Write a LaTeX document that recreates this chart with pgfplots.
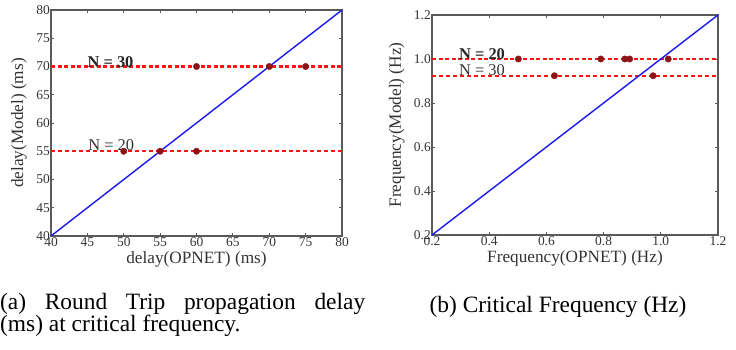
\documentclass[border=0pt]{standalone}
\usepackage{fontspec}
\setmainfont{Liberation Serif}
\usepackage{pgfplots}
\pgfplotsset{compat=1.18}
\definecolor{mblue}{RGB}{25,25,240}
\definecolor{mred}{RGB}{250,20,20}
\definecolor{mdot}{RGB}{140,20,20}
\definecolor{mframe}{RGB}{90,90,90}
\pgfplotsset{
  mystyle/.style={
    scale only axis,
    axis line style={mframe, line width=1.1bp},
    tick align=inside,
    major tick length=3bp,
    every tick/.style={mframe, line width=0.8bp},
    tick label style={font=\fontsize{13.5}{14}\selectfont, text=black!80},
    /pgf/number format/assume math mode=true,
    xticklabel style={inner sep=1bp},
    yticklabel style={inner sep=1bp},
    label style={font=\fontsize{17.3}{18}\selectfont, text=black!80},
    clip=false,
  }
}
\begin{document}
\begin{tikzpicture}
\useasboundingbox (0bp,0bp) rectangle (736bp,350bp);
\begin{axis}[mystyle,
  at={(51bp,114bp)}, anchor=south west, width=291bp, height=226bp,
  xmin=40, xmax=80, ymin=40, ymax=80,
  xtick={40,45,...,80}, ytick={40,45,...,80},
  xlabel={delay(OPNET) (ms)}, ylabel={delay(Model) (ms)},
  xlabel style={yshift=-1bp}, ylabel style={yshift=5bp},
]
\addplot[mred, line width=1.5bp, dash pattern=on 4bp off 3bp] coordinates {(40,55) (80,55)};
\addplot[mred, line width=2.5bp, dash pattern=on 4bp off 2.5bp] coordinates {(40,70) (80,70)};
\addplot[mblue, line width=1.4bp] coordinates {(40,40) (80,80)};
\addplot[only marks, mark=*, mark size=3.2bp, mdot] coordinates {(50,55) (55,55) (60,55)};
\addplot[only marks, mark=*, mark size=3.2bp, mdot] coordinates {(60,70) (70,70) (75,70)};
\node[anchor=base west, inner sep=0, font=\fontsize{16.5}{18}\selectfont, text=black!80] at (axis cs:45.1,55.2) {N = 20};
\node[anchor=base west, inner sep=0, font=\fontsize{16.5}{18}\selectfont\bfseries, text=black!85] at (axis cs:45,69.9) {N = 30};
\end{axis}
\begin{axis}[mystyle,
  at={(432bp,115bp)}, anchor=south west, width=286bp, height=220bp,
  xmin=0.2, xmax=1.2, ymin=0.2, ymax=1.2,
  xtick={0.2,0.4,...,1.2}, ytick={0.2,0.4,...,1.2},
  xticklabel style={/pgf/number format/.cd, fixed, fixed zerofill, precision=1},
  yticklabel style={/pgf/number format/.cd, fixed, fixed zerofill, precision=1},
  xlabel={Frequency(OPNET) (Hz)}, ylabel={Frequency(Model) (Hz)},
  xlabel style={yshift=-1bp}, ylabel style={yshift=5bp},
]
\addplot[mred, line width=2.2bp, dash pattern=on 4bp off 2.5bp] coordinates {(0.2,1.0) (1.2,1.0)};
\addplot[mred, line width=1.8bp, dash pattern=on 4bp off 3bp] coordinates {(0.2,0.924) (1.2,0.924)};
\addplot[mblue, line width=1.4bp] coordinates {(0.2,0.2) (1.2,1.2)};
\addplot[only marks, mark=*, mark size=3.2bp, mdot] coordinates {(0.502,1.0) (0.79,1.0) (0.874,1.0) (0.891,1.0) (1.026,1.0)};
\addplot[only marks, mark=*, mark size=3.2bp, mdot] coordinates {(0.628,0.924) (0.973,0.924)};
\node[anchor=base west, inner sep=0, font=\fontsize{16.5}{18}\selectfont\bfseries, text=black!85] at (axis cs:0.294,0.998) {N = 20};
\node[anchor=base west, inner sep=0, font=\fontsize{16.5}{18}\selectfont, text=black!80] at (axis cs:0.294,0.925) {N = 30};
\end{axis}
\node[anchor=north west, inner sep=0, text width=365bp, align=justify, font=\fontsize{23.5}{22.5}\selectfont] at (0bp,57bp) {(a) Round Trip propagation delay\linebreak (ms) at critical frequency.};
\node[anchor=base, inner sep=0, font=\fontsize{23.5}{22.5}\selectfont] at (558bp,38bp) {(b) Critical Frequency (Hz)};
\end{tikzpicture}
\end{document}
